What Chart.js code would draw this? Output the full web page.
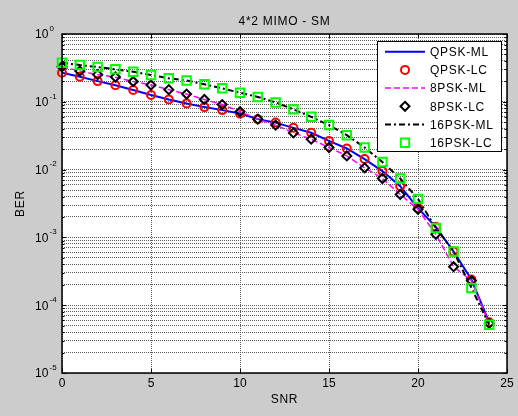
<!DOCTYPE html>
<html>
<head>
<meta charset="utf-8">
<title>4*2 MIMO - SM</title>
<script src="https://cdn.jsdelivr.net/npm/chart.js@4/dist/chart.umd.min.js"></script>
<style>
html, body { margin: 0; padding: 0; background: #cccccc; }
canvas { display: block; }
</style>
</head>
<body>
<canvas id="ber" width="518" height="416"></canvas>
<script>
var titleText = '4*2 MIMO - SM';
var xTitle = 'SNR';
var yTitle = 'BER';
var xTicks = [0, 5, 10, 15, 20, 25];
var yDecades = [0, -1, -2, -3, -4, -5];

var snr = [0, 1, 2, 3, 4, 5, 6, 7, 8, 9, 10, 11, 12, 13, 14, 15, 16, 17, 18, 19, 20, 21, 22, 23, 24];

var qpskML = [0.268, 0.234, 0.202, 0.175, 0.149, 0.126, 0.108, 0.0947, 0.0835, 0.0754, 0.0670, 0.0555, 0.0493, 0.0413, 0.0349,
              0.0265, 0.0205, 0.0143, 0.0095, 0.0057, 0.0027, 0.00143, 0.00062, 0.00024, 0.000056];
var qpskLC = [0.268, 0.234, 0.202, 0.175, 0.149, 0.126, 0.108, 0.0947, 0.0835, 0.0754, 0.0670, 0.0555, 0.0493, 0.0413, 0.0349,
              0.0265, 0.0205, 0.0143, 0.0095, 0.0057, 0.0027, 0.00143, 0.00062, 0.00024, 0.000056];
var psk8ML = [0.329, 0.284, 0.252, 0.230, 0.199, 0.177, 0.151, 0.130, 0.108, 0.0910, 0.0717, 0.0555, 0.0453, 0.0348, 0.0281,
              0.0212, 0.0159, 0.0106, 0.0074, 0.0043, 0.0026, 0.00111, 0.00037, 0.00023, 0.000054];
var psk8LC = [0.329, 0.284, 0.252, 0.232, 0.199, 0.177, 0.151, 0.130, 0.108, 0.0910, 0.0717, 0.0555, 0.0453, 0.0348, 0.0281,
              0.0212, 0.0159, 0.0106, 0.0074, 0.0043, 0.0026, 0.00111, 0.00037, 0.00023, 0.000054];
var psk16ML = [0.377, 0.348, 0.326, 0.301, 0.277, 0.248, 0.222, 0.206, 0.181, 0.158, 0.136, 0.118, 0.098, 0.0773, 0.0600,
               0.0453, 0.0322, 0.0212, 0.0129, 0.0074, 0.0037, 0.00138, 0.00062, 0.00018, 0.0000515];
var psk16LC = [0.377, 0.348, 0.326, 0.301, 0.277, 0.248, 0.222, 0.206, 0.181, 0.158, 0.136, 0.118, 0.098, 0.0773, 0.0600,
               0.0453, 0.0322, 0.0212, 0.0129, 0.0074, 0.0037, 0.00138, 0.00062, 0.00018, 0.0000515];

function pts(values) {
    return snr.map(function(x, i) { return { x: x, y: values[i] }; });
}

function lineSet(label, values, color, dash, width, order) {
    return {
        label: label, data: pts(values), showLine: true, borderColor: color, backgroundColor: color,
        borderWidth: width, borderDash: dash, pointRadius: 0, tension: 0, clip: false, order: order
    };
}

function markSet(label, values, color, style, radius, order) {
    return {
        label: label, data: pts(values), showLine: false, borderColor: color, backgroundColor: 'rgba(0,0,0,0)',
        pointStyle: style, pointRadius: radius, pointBorderWidth: 2, clip: false, order: order
    };
}

var datasets = [
    lineSet('QPSK-ML', qpskML, '#0000ff', [], 2, 6),
    markSet('QPSK-LC', qpskLC, '#ff0000', 'circle', 4, 5),
    lineSet('8PSK-ML', psk8ML, '#ff00ff', [6, 3], 1.5, 4),
    markSet('8PSK-LC', psk8LC, '#000000', 'rectRot', 4.5, 3),
    lineSet('16PSK-ML', psk16ML, '#000000', [6, 3, 2, 3], 2, 2),
    markSet('16PSK-LC', psk16LC, '#00ff00', 'rect', 6, 1)
];

function drawMarker(ctx, style, x, y, color) {
    ctx.save();
    ctx.strokeStyle = color;
    ctx.lineWidth = 2;
    ctx.setLineDash([]);
    ctx.beginPath();
    if (style === 'circle') {
        ctx.arc(x, y, 4, 0, Math.PI * 2);
    } else if (style === 'rectRot') {
        ctx.moveTo(x, y - 4.5); ctx.lineTo(x + 4.5, y); ctx.lineTo(x, y + 4.5); ctx.lineTo(x - 4.5, y); ctx.closePath();
    } else {
        ctx.rect(x - 4.2, y - 4.2, 8.4, 8.4);
    }
    ctx.stroke();
    ctx.restore();
}

var matlabLook = {
    id: 'matlabLook',
    beforeDraw: function(c) {
        var ctx = c.ctx, a = c.chartArea;
        ctx.save();
        ctx.fillStyle = '#cccccc';
        ctx.fillRect(0, 0, c.width, c.height);
        ctx.fillStyle = '#ffffff';
        ctx.fillRect(a.left, a.top, a.right - a.left, a.bottom - a.top);
        ctx.restore();
    },
    afterDraw: function(c) {
        var ctx = c.ctx, a = c.chartArea;
        var xs = c.scales.x, ys = c.scales.y;
        ctx.save();

        // inner tick marks
        ctx.strokeStyle = '#000';
        ctx.lineWidth = 1;
        ctx.beginPath();
        xTicks.forEach(function(v) {
            var px = Math.round(xs.getPixelForValue(v)) + 0.5;
            ctx.moveTo(px, a.bottom); ctx.lineTo(px, a.bottom - 4);
            ctx.moveTo(px, a.top); ctx.lineTo(px, a.top + 4);
        });
        ys.ticks.forEach(function(t) {
            var py = Math.round(ys.getPixelForValue(t.value)) + 0.5;
            var major = Math.abs(Math.log10(t.value) - Math.round(Math.log10(t.value))) < 1e-6;
            var len = major ? 4 : 2.5;
            ctx.moveTo(a.left, py); ctx.lineTo(a.left + len, py);
            ctx.moveTo(a.right, py); ctx.lineTo(a.right - len, py);
        });
        ctx.stroke();

        // axes box
        ctx.lineWidth = 1.5;
        ctx.strokeRect(a.left, a.top, a.right - a.left, a.bottom - a.top);

        // tick labels
        ctx.fillStyle = '#000';
        ctx.font = '12px Arial, "Liberation Sans", sans-serif';
        ctx.textAlign = 'center';
        ctx.textBaseline = 'middle';
        xTicks.forEach(function(v) {
            ctx.fillText(String(v), xs.getPixelForValue(v), 384);
        });
        ctx.textAlign = 'left';
        yDecades.forEach(function(e) {
            var py = ys.getPixelForValue(Math.pow(10, e));
            ctx.font = '12px Arial, "Liberation Sans", sans-serif';
            ctx.fillText('10', 35, py + 1);
            ctx.font = '8px Arial, "Liberation Sans", sans-serif';
            ctx.fillText(String(e), 49.5, py - 5.5);
        });

        // titles
        ctx.font = '12px Arial, "Liberation Sans", sans-serif';
        ctx.letterSpacing = '0.7px';
        ctx.textAlign = 'center';
        var cx = (a.left + a.right) / 2;
        ctx.fillText(titleText, cx, 22);
        ctx.fillText(xTitle, cx, 400);
        ctx.save();
        ctx.translate(21, (a.top + a.bottom) / 2);
        ctx.rotate(-Math.PI / 2);
        ctx.fillText(yTitle, 0, 0);
        ctx.restore();

        // legend
        var lx = 377, ly = 41, lw = 124, lh = 110;
        ctx.fillStyle = '#ffffff';
        ctx.fillRect(lx, ly, lw, lh);
        ctx.strokeStyle = '#000';
        ctx.lineWidth = 1;
        ctx.strokeRect(lx + 0.5, ly + 0.5, lw, lh);
        c.data.datasets.forEach(function(ds, i) {
            var ry = 51.7 + i * 18.2;
            if (ds.showLine) {
                ctx.save();
                ctx.strokeStyle = ds.borderColor;
                ctx.lineWidth = ds.borderWidth;
                ctx.setLineDash(ds.borderDash);
                ctx.beginPath();
                ctx.moveTo(385, ry); ctx.lineTo(425, ry);
                ctx.stroke();
                ctx.restore();
            } else {
                drawMarker(ctx, ds.pointStyle, 405, ry, ds.borderColor);
            }
            ctx.fillStyle = '#000';
            ctx.textAlign = 'left';
            ctx.fillText(ds.label, 430, ry + 1);
        });
        ctx.letterSpacing = '0px';
        ctx.restore();
    }
};

var gridStyle = { color: '#5c5c5c', lineWidth: 1, drawTicks: false, tickLength: 0 };

var chart = new Chart(document.getElementById('ber').getContext('2d'), {
    type: 'scatter',
    data: { datasets: datasets },
    plugins: [matlabLook],
    options: {
        responsive: false,
        animation: false,
        devicePixelRatio: 1,
        layout: { padding: { top: 34, right: 11, left: 0, bottom: 0 } },
        plugins: { legend: { display: false }, tooltip: { enabled: false }, title: { display: false } },
        scales: {
            x: {
                type: 'linear', min: 0, max: 25,
                ticks: { display: false, stepSize: 5 },
                grid: gridStyle,
                border: { display: false, dash: [1, 1] },
                afterFit: function(s) { s.height = 43; }
            },
            y: {
                type: 'logarithmic', min: 1e-5, max: 1,
                ticks: { display: false },
                grid: gridStyle,
                border: { display: false, dash: [1, 1] },
                afterBuildTicks: function(s) {
                    var t = [];
                    for (var e = -5; e < 0; e++) {
                        for (var k = 1; k < 10; k++) t.push({ value: k * Math.pow(10, e) });
                    }
                    t.push({ value: 1 });
                    s.ticks = t;
                },
                afterFit: function(s) { s.width = 62; }
            }
        }
    }
});
</script>
</body>
</html>
